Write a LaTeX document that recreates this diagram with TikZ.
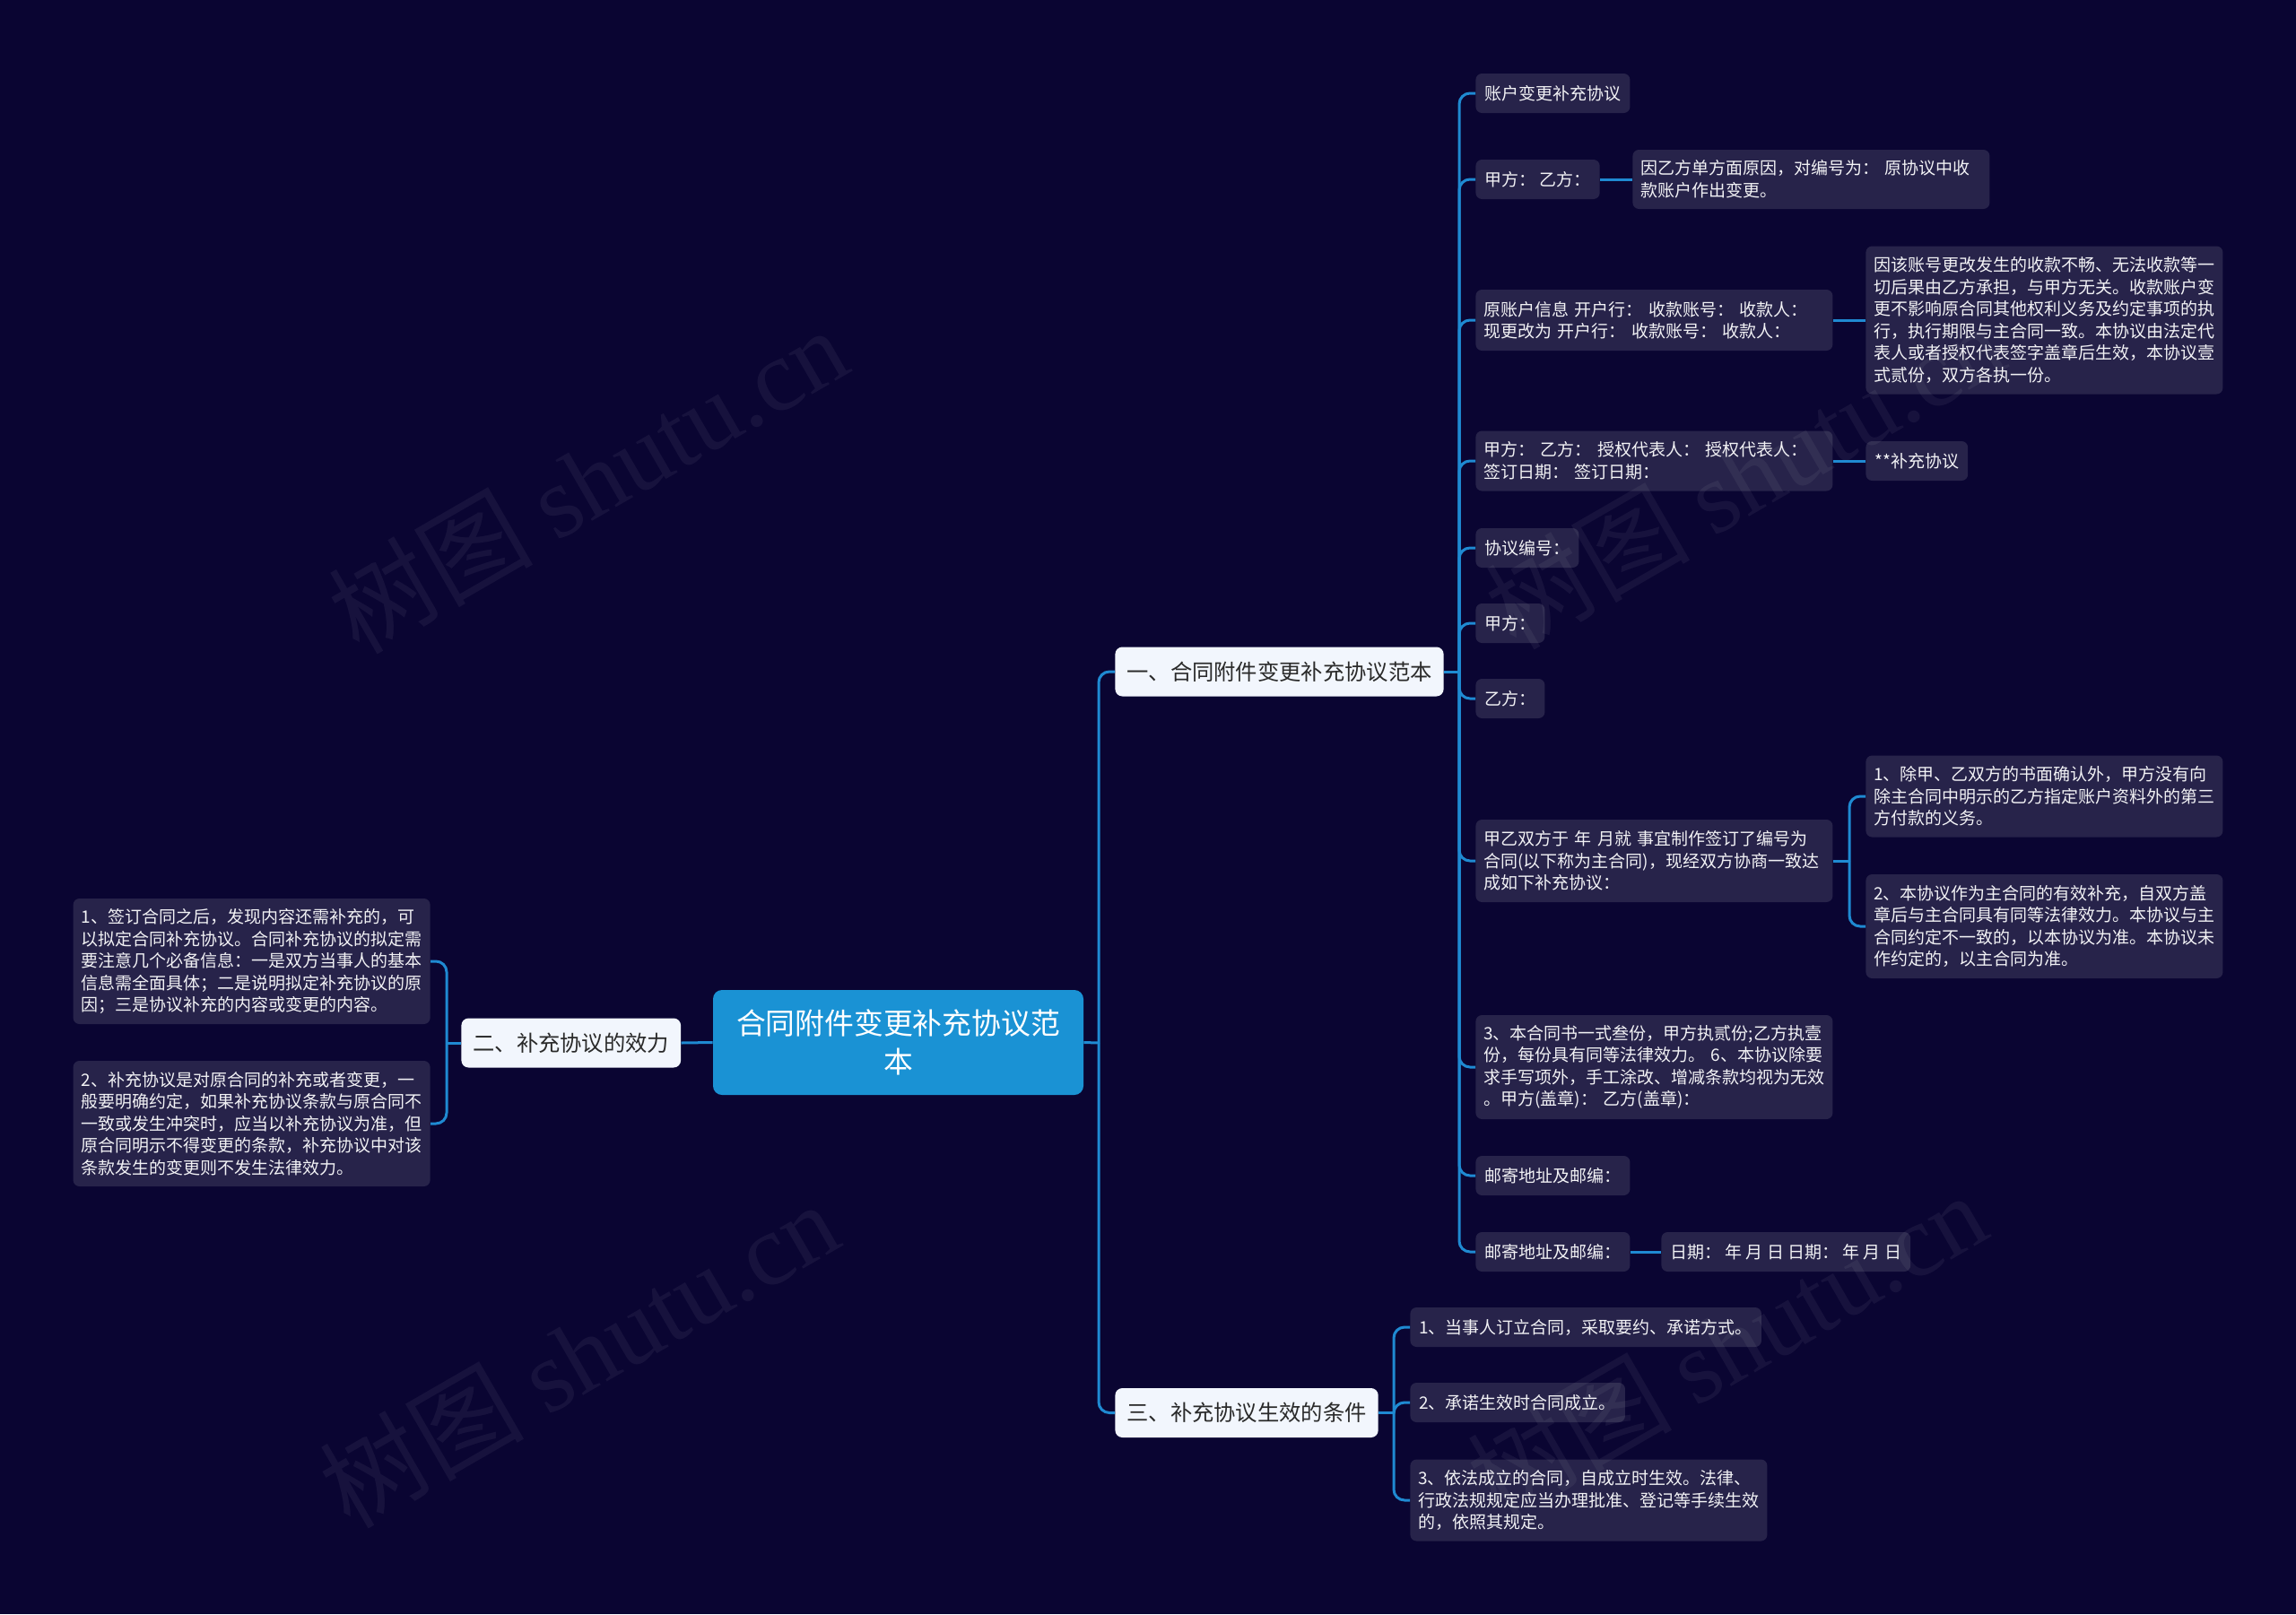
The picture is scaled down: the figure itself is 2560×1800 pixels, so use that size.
\documentclass[tikz,border=0pt]{standalone}
\usepackage{fontspec}
\newfontfamily\cjk{Noto Sans CJK SC}
\newfontfamily\wmlatin{Liberation Serif}
\usetikzlibrary{calc}
\definecolor{bgc}{HTML}{0A0532}
\definecolor{leafc}{HTML}{27234A}
\definecolor{leaftext}{HTML}{F2F2F5}
\definecolor{linec}{HTML}{1F8AD2}
\definecolor{rootc}{HTML}{1A92D4}
\definecolor{branchc}{HTML}{F2F6FD}
\definecolor{branchtext}{HTML}{2A2A2A}
\tikzset{
  leaf/.style={fill=leafc, rounded corners=3.5pt, text=leaftext,
    font=\cjk\fontsize{9.5}{12.25}\selectfont, inner xsep=5pt, inner ysep=0pt,
    minimum height=22pt, align=left},
  wide/.style={leaf, text width=190pt, inner xsep=4.5pt},
  branch/.style={fill=branchc, rounded corners=4pt, text=branchtext,
    font=\cjk\fontsize{12.15}{15}\selectfont, inner xsep=6.5pt, inner ysep=0pt,
    minimum height=27.5pt},
  rootbox/.style={fill=rootc, rounded corners=5pt, text=white,
    font=\cjk\fontsize{16.4}{21.2}\selectfont, align=center,
    minimum width=206.5pt, minimum height=58.5pt, inner sep=0pt},
  conn/.style={draw=linec, line width=1.5pt, rounded corners=6pt},
  wm/.style={text=white, text opacity=0.055, font=\fontsize{57}{60}\selectfont, rotate=30, inner sep=0pt}
}
\begin{document}
\begin{tikzpicture}[x=0.5pt,y=-0.5pt]
\fill[bgc] (0,0) rectangle (2560,1800);
\useasboundingbox (0,0) rectangle (2560,1800);

% root and branches
\node[rootbox] (root) at (1001.5,1162.5) {合同附件变更补充协议范\\本};
\node[branch, anchor=west] (b1) at (1243,749) {一、合同附件变更补充协议范本};
\node[branch, anchor=east] (b2) at (759.5,1163) {二、补充协议的效力};
\node[branch, anchor=west] (b3) at (1243,1575.5) {三、补充协议生效的条件};

% branch 1 children
\node[leaf, anchor=west] (n1) at (1645,104) {账户变更补充协议};
\node[leaf, anchor=west] (n2) at (1645,200) {甲方： 乙方：};
\node[wide, anchor=west, minimum height=33pt] (n2c) at (1820,200) {因乙方单方面原因，对编号为： 原协议中收\\款账户作出变更。};
\node[wide, anchor=west, minimum height=34pt] (n3) at (1645,357) {原账户信息 开户行： 收款账号： 收款人：\\现更改为 开户行： 收款账号： 收款人：};
\node[wide, anchor=west, minimum height=82.5pt] (n3c) at (2080,357) {因该账号更改发生的收款不畅、无法收款等一\\切后果由乙方承担，与甲方无关。收款账户变\\更不影响原合同其他权利义务及约定事项的执\\行，执行期限与主合同一致。本协议由法定代\\表人或者授权代表签字盖章后生效，本协议壹\\式贰份，双方各执一份。};
\node[wide, anchor=west, minimum height=33.5pt] (n4) at (1645,514) {甲方： 乙方： 授权代表人： 授权代表人：\\签订日期： 签订日期：};
\node[leaf, anchor=west] (n4c) at (2080,514) {**补充协议};
\node[leaf, anchor=west] (n5) at (1645,611) {协议编号：};
\node[leaf, anchor=west] (n6) at (1645,695) {甲方：};
\node[leaf, anchor=west] (n7) at (1645,779) {乙方：};
\node[wide, anchor=west, minimum height=46pt] (n8) at (1645,960) {甲乙双方于 年 月就 事宜制作签订了编号为\\合同(以下称为主合同)，现经双方协商一致达\\成如下补充协议：};
\node[wide, anchor=west, minimum height=45.5pt] (n8a) at (2080,888) {1、除甲、乙双方的书面确认外，甲方没有向\\除主合同中明示的乙方指定账户资料外的第三\\方付款的义务。};
\node[wide, anchor=west, minimum height=58pt] (n8b) at (2080,1033) {2、本协议作为主合同的有效补充，自双方盖\\章后与主合同具有同等法律效力。本协议与主\\合同约定不一致的，以本协议为准。本协议未\\作约定的，以主合同为准。};
\node[wide, anchor=west, minimum height=58pt] (n9) at (1645,1190) {3、本合同书一式叁份，甲方执贰份;乙方执壹\\份，每份具有同等法律效力。 6、本协议除要\\求手写项外，手工涂改、增减条款均视为无效\\。甲方(盖章)： 乙方(盖章)：};
\node[leaf, anchor=west] (n10) at (1645,1311) {邮寄地址及邮编：};
\node[leaf, anchor=west] (n11) at (1645,1396) {邮寄地址及邮编：};
\node[leaf, anchor=west] (n11c) at (1852,1396) {日期： 年 月 日 日期： 年 月 日};

% branch 2 children
\node[wide, anchor=east, minimum height=70pt] (d1) at (480,1072) {1、签订合同之后，发现内容还需补充的，可\\以拟定合同补充协议。合同补充协议的拟定需\\要注意几个必备信息：一是双方当事人的基本\\信息需全面具体；二是说明拟定补充协议的原\\因；三是协议补充的内容或变更的内容。};
\node[wide, anchor=east, minimum height=70pt] (d2) at (480,1253) {2、补充协议是对原合同的补充或者变更，一\\般要明确约定，如果补充协议条款与原合同不\\一致或发生冲突时，应当以补充协议为准，但\\原合同明示不得变更的条款，补充协议中对该\\条款发生的变更则不发生法律效力。};

% branch 3 children
\node[leaf, anchor=west] (c1) at (1572,1480) {1、当事人订立合同，采取要约、承诺方式。};
\node[leaf, anchor=west] (c2) at (1572,1564) {2、承诺生效时合同成立。};
\node[wide, anchor=west, minimum height=45.5pt] (c3) at (1572,1673) {3、依法成立的合同，自成立时生效。法律、\\行政法规规定应当办理批准、登记等手续生效\\的，依照其规定。};

% bus coordinates
\coordinate (rb) at (1225,1163);
\coordinate (b1bus) at (1627,749);
\coordinate (b2bus) at (498,1163);
\coordinate (b3bus) at (1554,1575.5);
\coordinate (n8bus) at (2062,960);

% connectors
\draw[conn] (root.east) -- (rb);
\draw[conn] (rb) |- (b1.west);
\draw[conn] (rb) |- (b3.west);
\draw[conn] (root.west) -- (b2.east);

\draw[conn] (b1.east) -- (b1bus);
\foreach \c in {n1,n2,n3,n4,n5,n6,n7,n8,n9,n10,n11}{
  \draw[conn] (b1bus) |- (\c.west);
}
\draw[conn] (n2.east) -- (n2.east -| n2c.west);
\draw[conn] (n3.east) -- (n3.east -| n3c.west);
\draw[conn] (n4.east) -- (n4.east -| n4c.west);
\draw[conn] (n11.east) -- (n11c.west);
\draw[conn] (n8.east) -- (n8bus);
\draw[conn] (n8bus) |- (n8a.west);
\draw[conn] (n8bus) |- (n8b.west);

\draw[conn] (b2.west) -- (b2bus);
\draw[conn] (b2bus) |- (d1.east);
\draw[conn] (b2bus) |- (d2.east);

\draw[conn] (b3.east) -- (b3bus);
\draw[conn] (b3bus) |- (c1.west);
\draw[conn] (b3bus) |- (c2.west);
\draw[conn] (b3bus) |- (c3.west);

% watermarks
\node[wm] (wm1) at (655,535) {\cjk 树图 \wmlatin shutu.cn};
\node[wm] (wm2) at (645,1510) {\cjk 树图 \wmlatin shutu.cn};
\node[wm] (wm3) at (1945,530) {\cjk 树图 \wmlatin shutu.cn};
\node[wm] (wm4) at (1925,1500) {\cjk 树图 \wmlatin shutu.cn};
\end{tikzpicture}
\end{document}
